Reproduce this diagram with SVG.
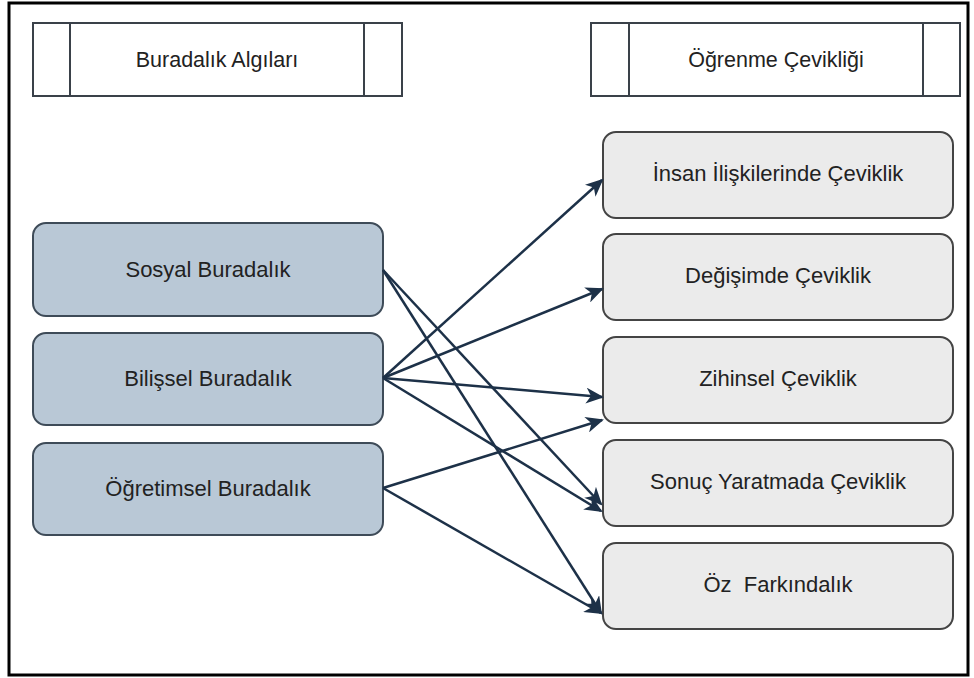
<svg xmlns="http://www.w3.org/2000/svg" width="974" height="678" viewBox="0 0 974 678">
<style>
  text { font-family: "Liberation Sans", Arial, sans-serif; font-size: 22px; fill: #222; text-anchor: middle; }
  .ht { font-size: 21.5px; }
  .hdr { fill: #fff; stroke: #3a4149; stroke-width: 2; }
  .src rect { fill: #b9c8d6; stroke: #3e4b58; stroke-width: 2; }
  .dst rect { fill: #ebebeb; stroke: #444; stroke-width: 2; }
  .edge { stroke: #1d3148; stroke-width: 2.5; fill: none; marker-end: url(#arr); }
</style>
<defs>
  <marker id="arr" markerUnits="userSpaceOnUse" markerWidth="20" markerHeight="16" refX="16" refY="8" orient="auto">
    <path d="M0,0 L18,8 L0,16 L5,8 Z" fill="#1d3148"/>
  </marker>
</defs>
<rect x="0" y="0" width="974" height="678" fill="#fff"/>
<rect x="9" y="3" width="959" height="672" fill="none" stroke="#000" stroke-width="3"/>

<g id="header-buradalik">
  <rect class="hdr" x="33" y="23" width="369" height="73"/>
  <line class="hdr" x1="70" y1="23" x2="70" y2="96"/>
  <line class="hdr" x1="364" y1="23" x2="364" y2="96"/>
  <text class="ht" x="217" y="67">Buradalık Algıları</text>
</g>
<g id="header-ogrenme">
  <rect class="hdr" x="591" y="23" width="369" height="73"/>
  <line class="hdr" x1="629" y1="23" x2="629" y2="96"/>
  <line class="hdr" x1="923" y1="23" x2="923" y2="96"/>
  <text class="ht" x="776" y="67">Öğrenme Çevikliği</text>
</g>

<g id="sosyal" class="src">
  <rect x="33" y="223" width="350" height="93" rx="13"/>
  <text x="208" y="277">Sosyal Buradalık</text>
</g>
<g id="bilissel" class="src">
  <rect x="33" y="333" width="350" height="92" rx="13"/>
  <text x="208" y="386">Bilişsel Buradalık</text>
</g>
<g id="ogretimsel" class="src">
  <rect x="33" y="443" width="350" height="92" rx="13"/>
  <text x="208" y="496">Öğretimsel Buradalık</text>
</g>

<g id="insan" class="dst">
  <rect x="603" y="132" width="350" height="86" rx="13"/>
  <text x="778" y="181">İnsan İlişkilerinde Çeviklik</text>
</g>
<g id="degisim" class="dst">
  <rect x="603" y="234" width="350" height="86" rx="13"/>
  <text x="778" y="283">Değişimde Çeviklik</text>
</g>
<g id="zihinsel" class="dst">
  <rect x="603" y="337" width="350" height="86" rx="13"/>
  <text x="778" y="386">Zihinsel Çeviklik</text>
</g>
<g id="sonuc" class="dst">
  <rect x="603" y="440" width="350" height="86" rx="13"/>
  <text x="778" y="489">Sonuç Yaratmada Çeviklik</text>
</g>
<g id="oz" class="dst">
  <rect x="603" y="543" width="350" height="86" rx="13"/>
  <text x="778" y="592" xml:space="preserve">Öz  Farkındalık</text>
</g>

<g id="connectors">
  <line class="edge" x1="383" y1="270" x2="601" y2="504"/>
  <line class="edge" x1="383" y1="270" x2="601" y2="613"/>
  <line class="edge" x1="383" y1="378" x2="602" y2="180"/>
  <line class="edge" x1="383" y1="378" x2="602" y2="289"/>
  <line class="edge" x1="383" y1="378" x2="602" y2="397"/>
  <line class="edge" x1="383" y1="378" x2="601" y2="511"/>
  <line class="edge" x1="383" y1="488" x2="602" y2="420"/>
  <line class="edge" x1="383" y1="488" x2="601" y2="613"/>
</g>
</svg>
